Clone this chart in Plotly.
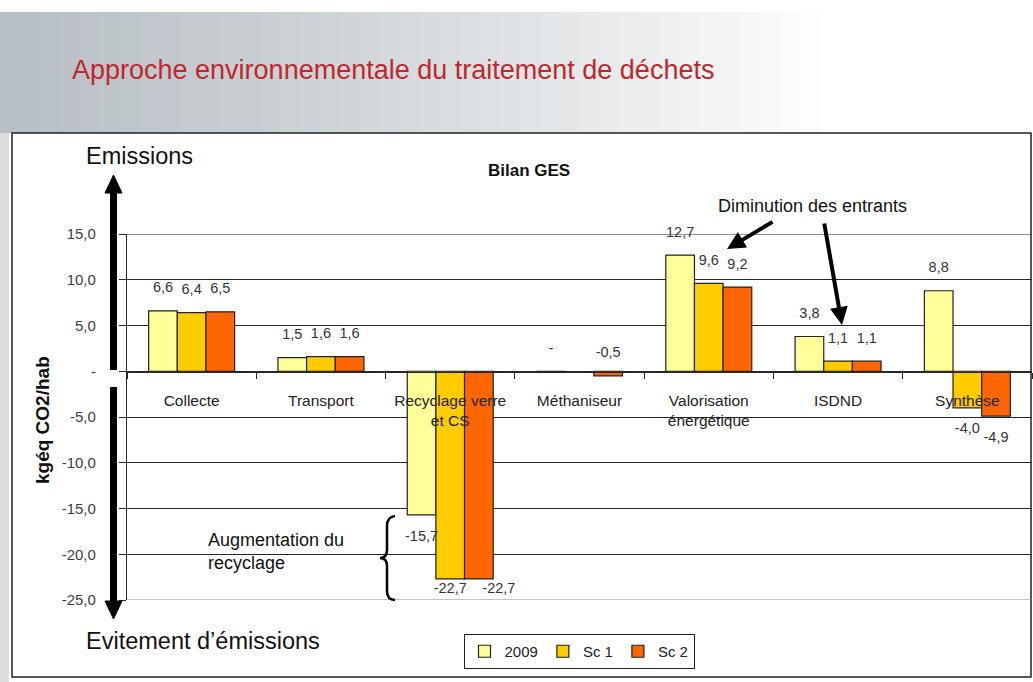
import plotly.graph_objects as go

# ---------------- data ----------------
categories = ["Collecte", "Transport", "Recyclage verre<br>et CS", "Méthaniseur",
              "Valorisation<br>énergétique", "ISDND", "Synthèse"]
series_names = ["2009", "Sc 1", "Sc 2"]
values_2009 = [6.6, 1.5, -15.7, 0.0, 12.7, 3.8, 8.8]
values_sc1 = [6.4, 1.6, -22.7, None, 9.6, 1.1, -4.0]
values_sc2 = [6.5, 1.6, -22.7, -0.5, 9.2, 1.1, -4.9]
y_tick_vals = [-25, -20, -15, -10, -5, 0, 5, 10, 15]

colors = ["#FFFF99", "#FFCC00", "#FF6600"]
FONT = "Liberation Sans, Arial, sans-serif"

W, H = 1033, 682
L, R, T, B = 127, 1032, 234, 600


def px(x):
    return (x - L) / (R - L)


def py(y):
    return (B - y) / (B - T)


def fmt(v):
    if v is None:
        return ""
    if v == 0:
        return "-"
    return f"{v:.1f}".replace(".", ",")


def ytick(v):
    return "-" if v == 0 else f"{v:.1f}".replace(".", ",")


def label_pos(v, k):
    if v is None or v > -1:
        return "top center"
    if v < -20 and k == 2:
        return "bottom right"
    return "bottom center"


fig = go.Figure()
series = [values_2009, values_sc1, values_sc2]
for name, vals, col in zip(series_names, series, colors):
    fig.add_trace(go.Bar(
        x=categories, y=vals, name=name,
        marker=dict(color=col, line=dict(color="#202020", width=1.2)),
        offsetgroup=name,
    ))
for k, (name, vals) in enumerate(zip(series_names, series)):
    fig.add_trace(go.Scatter(
        x=categories, y=[0 if v is None else v for v in vals],
        mode="markers+text", offsetgroup=name, showlegend=False, cliponaxis=False,
        marker=dict(size=[4 if (v is not None and v < -20) else 22 for v in vals], opacity=0),
        text=[fmt(v) for v in vals],
        textposition=[label_pos(v, k) for v in vals],
        textfont=dict(family=FONT, size=14.5, color="#333333"),
        hoverinfo="skip",
    ))

shapes = []
# slide background gradient (top-left grey)
n = 42
x_end = 840
for i in range(n):
    t = i / (n - 1)
    c = [int(185 + (255 - 185) * t ** 1.2), int(192 + (255 - 192) * t ** 1.2), int(197 + (255 - 197) * t ** 1.2)]
    x0 = x_end * i / n
    x1 = x_end * (i + 1) / n + 1
    shapes.append(dict(type="rect", xref="paper", yref="paper",
                       x0=px(x0), x1=px(x1), y0=py(133), y1=py(12),
                       fillcolor=f"rgb({c[0]},{c[1]},{c[2]})", line=dict(width=0), layer="below"))
# left grey strip
shapes.append(dict(type="rect", xref="paper", yref="paper", x0=px(0), x1=px(9), y0=py(682), y1=py(133),
                   fillcolor="#D9DDDF", line=dict(width=0), layer="below"))
# chart box
shapes.append(dict(type="rect", xref="paper", yref="paper", x0=px(12), x1=px(1031), y0=py(677), y1=py(133),
                   fillcolor="white", line=dict(color="#222222", width=1.5), layer="below"))
# plot-area top and bottom edges (gridlines at range ends)
shapes.append(dict(type="line", xref="paper", yref="y", x0=0, x1=1, y0=max(y_tick_vals), y1=max(y_tick_vals),
                   line=dict(color="#262626", width=1.2), layer="below"))
shapes.append(dict(type="line", xref="paper", yref="y", x0=0, x1=1, y0=min(y_tick_vals), y1=min(y_tick_vals),
                   line=dict(color="#8A8A8A", width=1.2), layer="below"))
# big vertical arrow (up)
shapes.append(dict(type="line", xref="paper", yref="paper", x0=px(113.5), x1=px(113.5), y0=py(370), y1=py(190),
                   line=dict(color="black", width=7)))
shapes.append(dict(type="path", xref="paper", yref="paper",
                   path=f"M {px(105)} {py(193)} L {px(122)} {py(193)} L {px(113.5)} {py(175)} Z",
                   fillcolor="black", line=dict(color="black", width=1)))
# big vertical arrow (down)
shapes.append(dict(type="line", xref="paper", yref="paper", x0=px(113.5), x1=px(113.5), y0=py(387), y1=py(604),
                   line=dict(color="black", width=7)))
shapes.append(dict(type="path", xref="paper", yref="paper",
                   path=f"M {px(105)} {py(601)} L {px(122)} {py(601)} L {px(113.5)} {py(619)} Z",
                   fillcolor="black", line=dict(color="black", width=1)))
# curly brace
brace = (f"M {px(395)} {py(516)} Q {px(387)} {py(517)} {px(387)} {py(526)} "
         f"L {px(387)} {py(550)} Q {px(387)} {py(558)} {px(380)} {py(558)} "
         f"Q {px(387)} {py(558)} {px(387)} {py(566)} L {px(387)} {py(591)} "
         f"Q {px(387)} {py(600)} {px(395)} {py(600)}")
shapes.append(dict(type="path", xref="paper", yref="paper", path=brace,
                   line=dict(color="black", width=2.5)))

annotations = [
    dict(text="Approche environnementale du traitement de déchets", xref="paper", yref="paper",
         x=px(70), y=py(70), xanchor="left", yanchor="middle", showarrow=False,
         font=dict(family=FONT, size=27, color="#C0272D")),
    dict(text="Emissions", xref="paper", yref="paper", x=px(84), y=py(156), xanchor="left", yanchor="middle",
         showarrow=False, font=dict(family=FONT, size=23.5, color="#111111")),
    dict(text="Evitement d’émissions", xref="paper", yref="paper", x=px(84), y=py(641), xanchor="left",
         yanchor="middle", showarrow=False, font=dict(family=FONT, size=23.5, color="#111111")),
    dict(text="<b>Bilan GES</b>", xref="paper", yref="paper", x=px(529), y=py(170), xanchor="center",
         yanchor="middle", showarrow=False, font=dict(family=FONT, size=17, color="#111111")),
    dict(text="<b>kgéq CO2/hab</b>", xref="paper", yref="paper", x=px(42), y=py(420), textangle=-90,
         xanchor="center", yanchor="middle", showarrow=False, font=dict(family=FONT, size=19, color="#111111")),
    dict(text="Diminution des entrants", xref="paper", yref="paper", x=px(812), y=py(206), xanchor="center",
         yanchor="middle", showarrow=False, font=dict(family=FONT, size=18, color="#111111")),
    dict(text="Augmentation du<br>recyclage", xref="paper", yref="paper", x=px(206), y=py(551), xanchor="left",
         yanchor="middle", align="left", showarrow=False, font=dict(family=FONT, size=18, color="#111111")),
    dict(text="", xref="paper", yref="paper", x=px(727), y=py(249), ax=47, ay=-28, showarrow=True,
         arrowhead=2, arrowsize=0.9, arrowwidth=4, arrowcolor="black"),
    dict(text="", xref="paper", yref="paper", x=px(842), y=py(325), ax=-18, ay=-103, showarrow=True,
         arrowhead=2, arrowsize=0.9, arrowwidth=4, arrowcolor="black"),
]

fig.update_layout(
    width=W, height=H,
    margin=dict(l=L, r=W - R, t=T, b=H - B, pad=0),
    paper_bgcolor="white", plot_bgcolor="rgba(0,0,0,0)",
    barmode="group", bargap=0.335, bargroupgap=0,
    scattermode="group", scattergap=0.335,
    shapes=shapes, annotations=annotations,
    showlegend=True,
    legend=dict(orientation="h", x=px(579), y=py(634), xanchor="center", yanchor="top",
                bordercolor="#222222", borderwidth=1, bgcolor="white",
                font=dict(family=FONT, size=15, color="#222222"), itemwidth=30,
                tracegroupgap=0),
    font=dict(family=FONT),
)
fig.update_yaxes(range=[-25, 15], tickvals=y_tick_vals, ticktext=[ytick(v) for v in y_tick_vals],
                 showgrid=True, gridcolor="#262626", gridwidth=1.2, zeroline=False,
                 showline=True, linecolor="#262626", linewidth=1.2,
                 ticks="outside", ticklen=7, tickcolor="#262626", ticklabelstandoff=20,
                 tickfont=dict(family=FONT, size=15, color="#404040"), fixedrange=True)
fig.update_xaxes(anchor="free", position=py(372), showline=True, linecolor="#262626", linewidth=1.2,
                 ticks="outside", tickson="boundaries", ticklen=6, tickcolor="#262626",
                 showgrid=False, ticklabelstandoff=14,
                 tickfont=dict(family=FONT, size=15.5, color="#222222"), fixedrange=True)

fig.write_html("out.html", config={"displayModeBar": False},
               post_script="document.body.style.margin='0';document.body.style.overflow='hidden';")
